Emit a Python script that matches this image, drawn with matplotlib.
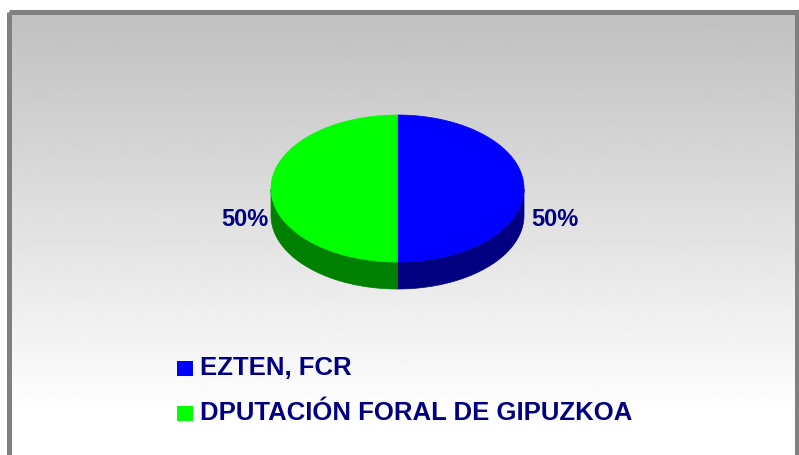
import numpy as np
import matplotlib
matplotlib.use("Agg")
import matplotlib.pyplot as plt
from matplotlib.patches import Polygon, Rectangle

# ---- data ----
categories = ["EZTEN, FCR", "DPUTACIÓN FORAL DE GIPUZKOA"]
values = [50, 50]
top_colors = ["#0000FF", "#00FF00"]
side_colors = ["#000080", "#008000"]
text_color = "#000080"

W, H = 799, 455
fig = plt.figure(figsize=(W / 100, H / 100), dpi=100)
fig.patch.set_facecolor("white")
ax = fig.add_axes([0, 0, 1, 1])
ax.set_xlim(0, W)
ax.set_ylim(H, 0)
ax.axis("off")

# background gradient inside frame
y0, y1 = 12, H
ys = np.arange(y0, y1)
g = np.clip(192 + (ys - 14) * 0.157, 0, 255) / 255.0
grad = np.repeat(g[:, None], 2, axis=1)
ax.imshow(grad, cmap="gray", vmin=0, vmax=1, extent=[9, 797, y1, y0],
          aspect="auto", zorder=0, interpolation="bilinear")
# frame
ax.add_patch(Rectangle((9, 12), 788, 460, fill=False, edgecolor="#808080",
                       linewidth=3.6, zorder=5))

# ---- 3D pie ----
cx, cy, rx, ry, depth = 397.5, 188.5, 126.5, 73.5, 27
total = sum(values)
fracs = [v / total for v in values]

def pt(t, dy=0.0):
    return cx + rx * np.cos(t), cy - ry * np.sin(t) + dy

# slices go clockwise starting at 12 o'clock
start = np.pi / 2
angles = []
for f in fracs:
    end = start - 2 * np.pi * f
    angles.append((start, end))
    start = end

# side walls (front half only)
for (a0, a1), sc in zip(angles, side_colors):
    ts = np.linspace(a0, a1, 200)
    tm = np.mod(ts, 2 * np.pi)
    vis = tm >= np.pi
    if not vis.any():
        continue
    tv = ts[vis]
    xt, yt = pt(tv)
    xb, yb = pt(tv, depth)
    poly = np.column_stack([np.concatenate([xt, xb[::-1]]),
                            np.concatenate([yt, yb[::-1]])])
    ax.add_patch(Polygon(poly, closed=True, facecolor=sc, edgecolor=sc,
                         linewidth=0.5, zorder=2))

# top faces
for (a0, a1), tc in zip(angles, top_colors):
    ts = np.linspace(a0, a1, 300)
    xs, yv = pt(ts)
    poly = np.column_stack([np.concatenate([[cx], xs]),
                            np.concatenate([[cy], yv])])
    ax.add_patch(Polygon(poly, closed=True, facecolor=tc, edgecolor=tc,
                         linewidth=0.5, zorder=3))

# percentage labels
for (a0, a1), v in zip(angles, values):
    mid = (a0 + a1) / 2
    pct = f"{round(100 * v / total)}%"
    if np.cos(mid) >= 0:
        ax.text(cx + rx + 7, 219, pct, ha="left", va="center",
                fontsize=17, fontweight="bold", color=text_color,
                family="Liberation Sans", zorder=6)
    else:
        ax.text(cx - rx - 3, 219, pct, ha="right", va="center",
                fontsize=17, fontweight="bold", color=text_color,
                family="Liberation Sans", zorder=6)

# legend
leg_y = [368, 413]
for cat, tc, ly in zip(categories, top_colors, leg_y):
    ax.add_patch(Rectangle((177, ly - 7.5), 16, 15, facecolor=tc,
                           edgecolor="none", zorder=6))
    ax.text(200, ly, cat, ha="left", va="center", fontsize=18.5,
            fontweight="bold", color=text_color, family="Liberation Sans",
            zorder=6)

fig.savefig("out.png", dpi=100, facecolor="white")
